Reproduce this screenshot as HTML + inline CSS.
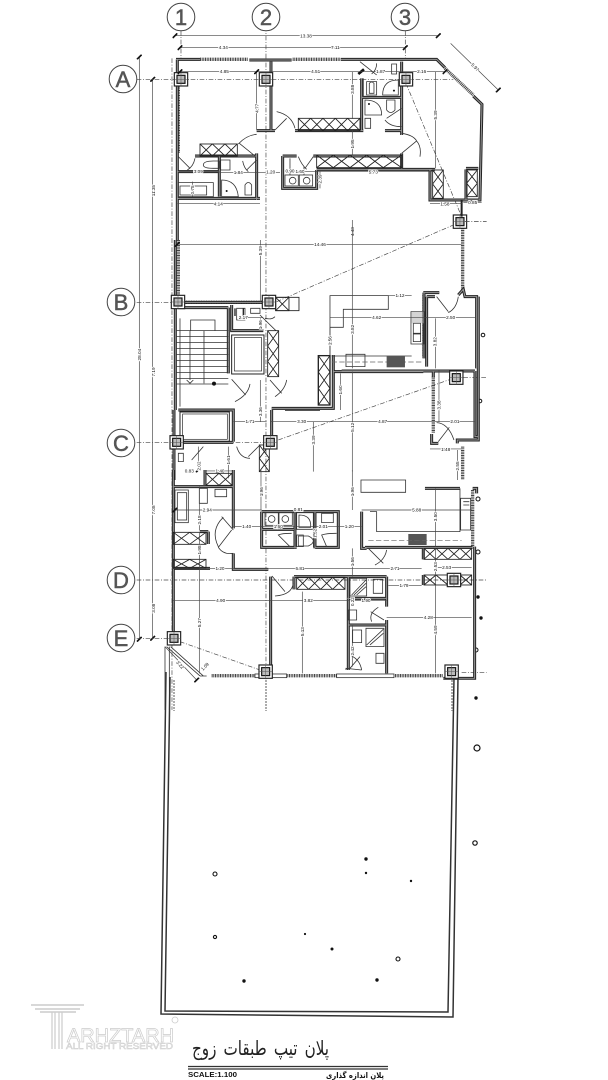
<!DOCTYPE html>
<html lang="en"><head><meta charset="utf-8"><title>Plan</title>
<style>
html,body{margin:0;padding:0;background:#fff;width:608px;height:1080px;overflow:hidden}
svg{display:block}
text{font-family:"Liberation Sans",sans-serif}
.t{stroke:#333;stroke-width:2.4;fill:none}
.th{stroke:#111;stroke-width:4;fill:none}
.wa{stroke:#222;stroke-width:9;fill:none}
.wb{stroke:#999;stroke-width:3;fill:none}
.h{stroke:#444;stroke-width:10;fill:none;stroke-dasharray:3 2}
.gd{stroke:#444;stroke-width:2;fill:none;stroke-dasharray:14 5 3 5}
.x{stroke:#222;stroke-width:2.6;fill:none}
.d{stroke:#444;stroke-width:2;fill:none;marker-start:url(#m);marker-end:url(#m)}
.l{font-size:14px;fill:#111;text-anchor:middle;dominant-baseline:central;paint-order:stroke;stroke:#fff;stroke-width:5px}
.dk{fill:#333}
</style></head><body>
<svg xmlns="http://www.w3.org/2000/svg" width="608" height="1080" viewBox="0 0 608 1080">
<defs>
<marker id="m" markerUnits="userSpaceOnUse" viewBox="-8 -8 16 16" markerWidth="16" markerHeight="16" orient="0"><path d="M-7 7L7-7" stroke="#111" stroke-width="5"/></marker>
<g id="c"><rect x="-20" y="-20" width="40" height="40" fill="#fff" stroke="#222" stroke-width="3.500"/><rect x="-12" y="-12" width="24" height="24" fill="#bbb" stroke="#111" stroke-width="3.500"/><path d="M-20 0H20M0-20V20" stroke="#555" stroke-width="1.500"/></g>

<path id="w1" d="M228 178H300M448 180H575M722 178H1010L1035 203M1120 288L1146 313L1140 600H990V508M1098 600V508M232 178V720M513 185V392H470M470 392H525M585 392H790M785 235V392M785 292H905M905 185V385M855 392H905M905 385V405M285 468H470M470 460V600M358 468V590M233 515H355M233 595H480M548 468H590V468M548 468V565H650V510M640 468H905V505M905 460V505M650 508H1005M1098 505H1135"/>
<path id="w2" d="M226 0V510M222 510V720M235 187H490M385 203V400M235 203H385M235 510H400V605M248 607H400M395 195V272H490M515 510V620M515 505H700V395H970M725 393H1125M700 395V345M972 158V355M970 158H1018M980 170H1005M980 170V380M1075 165L1090 148L1095 170H1130V385M1125 393V590H1135M1135 170V600H1072V610M995 582V610H1015M1000 395V412"/>
<path id="w3" d="M220 0V505M218 50H400M400 0V175M400 250V298H505M512 320V600M218 295H330M325 185V222M300 185H325M315 0V45M485 125V232H590M485 125H715V232H645M485 178H582M585 125V235M645 125V235M785 125V235H800M795 232H1118M975 55H1080M1118 55H1130V70M1124 230V625H1030M582 320H860M745 320V600M860 320V410M860 450V610M745 465H860M742 385H860M582 320V358M970 235V268M970 315V345"/>
</defs>
<rect width="608" height="1080" fill="#fff"/>

<!-- garden outline -->
<path d="M166 672L161 1014L453 1017L458 677" fill="none" stroke="#333" stroke-width="1.5"/>
<path d="M170 677L165 1011L448 1012L454 678" fill="none" stroke="#333" stroke-width="1.5"/>
<path d="M174 680V711M266 680V711M452 680V711" stroke="#888" stroke-width="1.4" stroke-dasharray="2 1" fill="none"/>

<!-- dots and rings -->
<g fill="#111">
<circle cx="476" cy="698" r="1.7"/><circle cx="366" cy="859" r="1.7"/><circle cx="366" cy="873" r="1.2"/><circle cx="411" cy="881" r="1.2"/><circle cx="305" cy="934" r="1.1"/><circle cx="332" cy="949" r="1.5"/><circle cx="244" cy="981" r="1.7"/><circle cx="377" cy="980" r="1.7"/><circle cx="478" cy="597" r="1.7"/><circle cx="481" cy="618" r="1.7"/>
</g>
<g fill="#fff" stroke="#111">
<circle cx="477" cy="748" r="3" stroke-width="1.2"/><circle cx="475" cy="843" r="2.2" stroke-width="1.2"/><circle cx="215" cy="874" r="2" stroke-width="1.1"/><circle cx="215" cy="937" r="1.6" stroke-width="1.1"/><circle cx="398" cy="959" r="2" stroke-width="1.1"/><circle cx="483" cy="335" r="1.8" stroke-width="1"/><circle cx="480" cy="401" r="1.8" stroke-width="1"/><circle cx="478" cy="499" r="2" stroke-width="1"/><circle cx="478" cy="552" r="2" stroke-width="1"/><circle cx="476" cy="650" r="2" stroke-width="1"/>
</g>

<!-- long left dimension lines and grid verticals -->
<g transform="scale(.3333)">
<path class="d" d="M418 171V1918"/>
<path class="d" d="M458 238V1485M458 1485V1915"/>
<path class="gd" d="M516 175V2130"/>
<path class="gd" d="M798 80V2040"/>
<text class="l" transform="translate(418 1064) rotate(-90)">28.04</text>
<text class="l" transform="translate(460 572) rotate(-90)">11.35</text>
<text class="l" transform="translate(460 1116) rotate(-90)">7.19</text>
<text class="l" transform="translate(460 1530) rotate(-90)">7.08</text>
<text class="l" transform="translate(460 1825) rotate(-90)">3.08</text>
</g>

<!-- SECTION 1 -->
<g transform="translate(100 0) scale(.3333)">
<path class="gd" d="M243 92V175M916 92V175M110 238H1060M918 250L1085 650"/>
<path class="h" d="M300 178H445M578 178H720M1035 205L1120 285M235 260V460M1088 675V720"/>
<use href="#w1" class="wa"/><use href="#w1" class="wb"/>
<g class="x">
<rect x="300" y="432" width="112" height="36"/><path d="M300 432L337 468M337 432L300 468M337 432L375 468M375 432L337 468M375 432L412 468M412 432L375 468"/>
<rect x="595" y="355" width="185" height="37"/><path d="M595 355L632 392M632 355L595 392M632 355L669 392M669 355L632 392M669 355L706 392M706 355L669 392M706 355L743 392M743 355L706 392M743 355L780 392M780 355L743 392"/>
<rect x="650" y="465" width="255" height="38"/><path d="M650 465L700 503M700 465L650 503M700 465L750 503M750 465L700 503M750 465L800 503M800 465L750 503M800 465L850 503M850 465L800 503M850 465L905 503M905 465L850 503"/>
<rect x="998" y="510" width="32" height="85"/><path d="M998 510L1030 552M1030 510L998 552M998 552L1030 595M1030 552L998 595"/>
<rect x="1100" y="510" width="32" height="80"/><path d="M1100 510L1132 550M1132 510L1100 550M1100 550L1132 590M1132 550L1100 590"/>
</g>
<g class="t">
<rect x="555" y="525" width="40" height="33"/><rect x="598" y="525" width="40" height="33"/><circle cx="578" cy="542" r="10"/><circle cx="620" cy="542" r="10"/>
<path d="M570 475V525M612 500V525"/>
<path d="M525 390L560 355M530 335Q575 345 585 385M418 430L465 468M415 432Q440 405 470 403M440 510L470 480M428 483Q432 505 445 515M235 470L270 505M285 475Q280 500 262 510M615 505L640 470M595 470Q605 495 620 508M905 460L950 423M905 400Q940 405 950 423Q965 440 960 470M860 355L905 325M855 360Q870 380 905 380M780 185L830 225M830 190Q830 210 815 222M790 235V290"/>
<path d="M800 245H830V285H800ZM808 250Q815 242 822 250V280H808ZM848 285Q848 240 895 240V285ZM795 300Q845 300 845 345H795ZM860 300H885V330Q872 345 860 330ZM795 355H812V385H795ZM310 495Q310 483 340 483H358V505H340Q310 505 310 495ZM362 480H390V510H362ZM365 590V540Q410 540 415 590ZM435 585V555Q445 540 455 555V585ZM235 548H340V590H235ZM875 192H890V222H875ZM240 558H320V585H240Z"/>
</g>
<circle cx="807" cy="312" r="3" fill="#111"/><circle cx="882" cy="272" r="3" fill="#111"/><circle cx="380" cy="573" r="3" fill="#111"/><circle cx="277" cy="570" r="3" fill="#111"/>
<path d="M775 222L792 208" stroke="#111" stroke-width="8"/>
<use href="#c" x="243" y="238"/><use href="#c" x="498" y="238"/><use href="#c" x="918" y="238"/><use href="#c" x="1080" y="665"/>
<path d="M1085 600V650" stroke="#222" stroke-width="6"/>
<path class="d" d="M225 107H1015"/>
<path class="d" d="M240 143H498M498 143H916"/>
<path class="d" d="M240 215H510M510 215H790M790 215H900M900 215H1035"/>
<path class="d" d="M470 215V390M757 215V357M757 392V467M1007 215V505M232 610H480M235 515H358M358 517H470M470 517H540M555 515H650M650 515H1005M990 610H1085M1090 608H1145M660 510V565M278 545V590M1052 130L1195 270"/>
<path d="M1095 665H1160" class="gd"/>
<text class="l" x="618" y="108">13.38</text><text class="l" x="370" y="143">4.34</text><text class="l" x="706" y="143">7.11</text>
<text class="l" x="373" y="215">4.85</text><text class="l" x="647" y="215">4.51</text><text class="l" x="842" y="215">1.87</text><text class="l" x="965" y="215">2.16</text>
<text class="l" transform="translate(471 325) rotate(-90)">4.77</text><text class="l" transform="translate(757 268) rotate(-90)">3.88</text><text class="l" transform="translate(757 432) rotate(-90)">1.95</text><text class="l" transform="translate(1007 345) rotate(-90)">5.39</text><text class="l" transform="translate(757 695) rotate(-90)">4.43</text><text class="l" transform="translate(660 537) rotate(-90)">2.39</text><text class="l" transform="translate(278 570) rotate(-90)">0.75</text>
<text class="l" x="355" y="612">4.14</text><text class="l" x="295" y="515">3.09</text><text class="l" x="415" y="517">1.84</text><text class="l" x="512" y="516">1.20</text><text class="l" x="570" y="513">0.90</text><text class="l" x="600" y="515">1.60</text><text class="l" x="820" y="516">5.73</text><text class="l" x="1035" y="612">1.58</text><text class="l" x="1118" y="608">0.85</text>
<text class="l" transform="translate(1125 202) rotate(45)">5.97</text>
</g>

<!-- SECTION 2 -->
<g transform="translate(100 240) scale(.3333)">
<path class="gd" d="M110 187H500M110 608H520M1090 413H1160M530 185L1060 -45M535 600L1060 415"/>
<path class="h" d="M1088 0V150M235 0V170M238 187H490M1088 620V720M1000 410V580M972 165V350"/>
<use href="#w2" class="wa"/><use href="#w2" class="wb"/>
<g class="t">
<path d="M228 272H385M228 290H385M228 308H385M228 326H385M228 344H385M228 362H385M228 380H385M228 398H385M228 416H385M312 272V430M272 272V240H345V272M228 432H385M270 272V420M260 420L270 430L280 420M240 235V500"/>
<path d="M395 418L437 465M450 432Q445 465 405 485M510 420L545 460M560 420Q555 450 525 470M480 225L528 272M525 230Q515 240 495 235"/>
<path d="M690 350V167H865V208H730V262H690M695 348H935M933 215H972V312H933ZM940 250H962V280H940ZM940 282H962V305H940ZM738 343H795V380H738Z"/>
<path d="M1010 170L1045 215M1075 170Q1070 205 1045 218M1015 605L1048 562M1010 548Q1045 550 1062 600M410 205H435V240H410ZM452 205H480V220H452Z"/>
</g>
<path d="M695 366H970" stroke="#666" stroke-width="2" stroke-dasharray="16 7" fill="none"/>
<rect x="860" y="348" width="55" height="34" fill="#555"/>
<g stroke="#222" fill="none" stroke-width="3"><rect x="395" y="285" width="97" height="117"/><rect x="403" y="293" width="82" height="100" stroke-width="2"/><rect x="240" y="516" width="148" height="88"/><rect x="248" y="522" width="134" height="76" stroke-width="2"/></g>
<path d="M935 215H972V250H935Z" fill="#aaa" opacity=".5"/>
<circle cx="342" cy="431" r="6" fill="#111"/>
<g class="x">
<rect x="503" y="272" width="33" height="138"/><path d="M503 272L536 318M536 272L503 318M503 318L536 364M536 318L503 364M503 364L536 410M536 364L503 410"/>
<rect x="527" y="172" width="70" height="40"/><rect x="527" y="172" width="40" height="40"/><path d="M527 172L567 212M567 172L527 212"/>
<rect x="655" y="347" width="35" height="148" stroke-width="4"/><path d="M655 347L690 396M690 347L655 396M655 396L690 445M690 396L655 445M655 445L690 495M690 445L655 495"/>
<rect x="478" y="615" width="30" height="80"/><path d="M478 615L508 655M508 615L478 655M478 655L508 695M508 655L478 695"/>
</g>
<path d="M555 511H660" stroke="#555" stroke-width="4"/>
<path d="M405 228V205M430 228V205" stroke="#222" stroke-width="4" fill="none"/>
<use href="#c" x="234" y="186"/><use href="#c" x="507" y="186"/><use href="#c" x="230" y="607"/><use href="#c" x="511" y="607"/><use href="#c" x="1069" y="413"/>
<path class="d" d="M232 13H1085M481 0V185M481 235V270M757 -60V165M865 167H935M690 233H975M975 233H1125M757 165V385M1007 235V385M690 262V345M722 400V510M1017 390V545M757 395V695M640 545V695M510 545H700M700 545H1000M1000 545H1125M400 545H500M990 627H1085M1073 630V720M481 420V545M385 620V715M420 233H490M315 693H400M295 620V690"/>
<text class="l" x="660" y="13">14.46</text><text class="l" x="900" y="167">1.12</text><text class="l" x="830" y="233">4.62</text><text class="l" x="1052" y="233">2.50</text><text class="l" x="430" y="233">2.17</text><text class="l" x="605" y="545">3.30</text><text class="l" x="848" y="545">4.87</text><text class="l" x="1065" y="545">2.01</text><text class="l" x="450" y="545">1.71</text><text class="l" x="1037" y="628">1.48</text><text class="l" x="360" y="693">1.40</text><text class="l" x="268" y="693">0.83</text>
<text class="l" transform="translate(481 32) rotate(-90)">5.39</text><text class="l" transform="translate(481 254) rotate(-90)">1.96</text><text class="l" transform="translate(757 268) rotate(-90)">3.82</text><text class="l" transform="translate(1005 305) rotate(-90)">3.82</text><text class="l" transform="translate(690 302) rotate(-90)">1.56</text><text class="l" transform="translate(722 450) rotate(-90)">1.60</text><text class="l" transform="translate(1017 495) rotate(-90)">3.38</text><text class="l" transform="translate(757 562) rotate(-90)">5.12</text><text class="l" transform="translate(640 600) rotate(-90)">3.39</text><text class="l" transform="translate(481 515) rotate(-90)">3.36</text><text class="l" transform="translate(385 660) rotate(-90)">1.61</text><text class="l" transform="translate(1073 678) rotate(-90)">2.55</text><text class="l" transform="translate(297 678) rotate(-90)">2.02</text>
<g class="t"><path d="M275 660L310 620M235 640H250V665H235ZM410 620Q420 655 450 655M445 650L480 615"/></g>
</g>

<!-- SECTION 3 -->
<g transform="translate(100 470) scale(.3333)">
<path class="gd" d="M110 330H1160M110 505H205M240 515L480 600M1085 608H1160"/>
<path class="h" d="M1118 60V230M335 617H465M562 617H710M885 617H1030"/>
<use href="#w3" class="wa"/><use href="#w3" class="wb"/>
<g class="t">
<rect x="465" y="612" width="95" height="11" fill="#fff"/><rect x="710" y="612" width="172" height="11" fill="#fff"/>
<rect x="225" y="60" width="40" height="98"/><rect x="232" y="68" width="28" height="82"/>
<path d="M395 180L355 232M370 142Q330 180 355 230M355 232Q370 255 400 250M400 180L365 140"/>
<path d="M590 195H610V230H590Z"/>
<rect x="495" y="128" width="40" height="38"/><rect x="537" y="128" width="40" height="38"/><circle cx="515" cy="147" r="10"/><circle cx="556" cy="147" r="10"/>
<path d="M590 128H640V178H590ZM597 135Q635 135 632 172H597ZM665 130H700V158H665ZM595 198H625Q640 205 640 213T625 228H595ZM570 230L535 195Q545 190 575 190M680 230L665 195Q680 190 710 190"/>
<path d="M805 235L850 280M860 240Q855 270 825 285M810 125H830V185H1080V55M783 30H917V67H783ZM1082 85H1112V180H1082ZM1090 95H1108M1090 105H1108"/>
<path d="M516 318L555 365M580 340Q575 375 525 378M812 425L852 450M835 412Q805 430 815 455M738 600V595L785 600M750 595L780 560M785 600Q780 570 755 558"/>
<path d="M298 55H322V100H298ZM345 58H380V80H345ZM820 328H848V370H820ZM758 480H785V518H758ZM828 550H852V580H828ZM745 420H770V450H745Z"/>
<path d="M750 325H800V378H750ZM798 475H852V530H798ZM755 375L798 330M762 375L798 340M770 375L798 350M800 525L850 478M810 525L850 490"/>
<path d="M195 530V720M208 530V720M200 530L300 618M212 530L310 618M300 618H320"/>
</g>
<rect x="925" y="192" width="55" height="33" fill="#555"/>
<path d="M805 212H1085" stroke="#666" stroke-width="2" stroke-dasharray="16 7" fill="none"/>
<g class="x">
<rect x="220" y="187" width="98" height="36"/><path d="M220 187L269 223M269 187L220 223M269 187L318 223M318 187L269 223"/>
<rect x="220" y="268" width="98" height="27"/><path d="M220 268L269 295M269 268L220 295M269 268L318 295M318 268L269 295"/>
<rect x="318" y="10" width="78" height="36"/><path d="M318 10L357 46M357 10L318 46M357 10L396 46M396 10L357 46"/>
<rect x="590" y="322" width="145" height="36"/><path d="M590 322L626 358M626 322L590 358M626 322L662 358M662 322L626 358M662 322L698 358M698 322L662 358M698 322L735 358M735 322L698 358"/>
<rect x="972" y="235" width="143" height="33"/><path d="M972 235L1008 268M1008 235L972 268M1008 235L1044 268M1044 235L1008 268M1044 235L1080 268M1080 235L1044 268M1080 235L1115 268M1115 235L1080 268"/>
<rect x="972" y="315" width="143" height="30"/><path d="M972 315L1008 345M1008 315L972 345M1008 315L1044 345M1080 315L1115 345M1115 315L1080 345"/>
</g>
<use href="#c" x="222" y="505"/><use href="#c" x="497" y="605"/><use href="#c" x="1055" y="605"/><use href="#c" x="1062" y="330"/>
<path class="d" d="M225 120H400M400 120H485M785 120H1115M400 170H485M485 170H585M590 170H715M715 170H785M300 295H400M400 295H805M805 295H965M1005 293H1115M865 347H965M218 392H510M510 392H745M745 392H860M860 443H1115M298 50V182M298 185V298M298 298V610M607 365V610M757 0V120M757 235V320M483 0V120M1007 55V230M1007 235V345M1007 345V610M757 465V590M640 180V232M195 530L290 630"/>
<text class="l" x="322" y="120">2.94</text><text class="l" x="440" y="170">1.40</text><text class="l" x="535" y="170">1.60</text><text class="l" x="670" y="170">2.01</text><text class="l" x="748" y="170">1.20</text><text class="l" x="950" y="120">5.88</text><text class="l" x="360" y="295">1.20</text><text class="l" x="600" y="295">6.81</text><text class="l" x="885" y="295">2.71</text><text class="l" x="1040" y="293">2.53</text><text class="l" x="912" y="347">1.79</text><text class="l" x="362" y="392">4.90</text><text class="l" x="625" y="392">3.82</text><text class="l" x="798" y="392">1.90</text><text class="l" x="985" y="443">4.28</text><text class="l" x="595" y="118">0.81</text>
<text class="l" transform="translate(298 150) rotate(-90)">2.18</text><text class="l" transform="translate(298 240) rotate(-90)">1.98</text><text class="l" transform="translate(298 458) rotate(-90)">5.27</text><text class="l" transform="translate(607 485) rotate(-90)">5.13</text><text class="l" transform="translate(757 65) rotate(-90)">1.96</text><text class="l" transform="translate(757 275) rotate(-90)">1.56</text><text class="l" transform="translate(484 65) rotate(-90)">1.96</text><text class="l" transform="translate(1007 140) rotate(-90)">3.50</text><text class="l" transform="translate(1007 290) rotate(-90)">2.53</text><text class="l" transform="translate(1007 480) rotate(-90)">4.59</text><text class="l" transform="translate(757 543) rotate(-90)">2.42</text><text class="l" transform="translate(645 190) rotate(-90)">1.52</text><text class="l" transform="translate(757 395) rotate(-90)">0.22</text><text class="l" transform="translate(240 585) rotate(48)">3.22</text><text class="l" transform="translate(315 590) rotate(-45)">1.09</text>
</g>

<!-- grid bubbles -->
<g stroke="#444" stroke-width="1" fill="#fff">
<circle cx="181" cy="17" r="13.8"/><circle cx="266" cy="17" r="13.8"/><circle cx="405" cy="17" r="13.8"/>
<circle cx="123" cy="79" r="13.8"/><circle cx="121" cy="302" r="13.8"/><circle cx="121" cy="443" r="13.8"/><circle cx="121" cy="580" r="13.8"/><circle cx="121" cy="638" r="13.8"/>
</g>
<g font-size="22" fill="#555" text-anchor="middle" stroke="#555" stroke-width=".5">
<text x="181" y="25">1</text><text x="266" y="25">2</text><text x="405" y="25">3</text>
<text x="123" y="87">A</text><text x="121" y="310">B</text><text x="121" y="451">C</text><text x="121" y="588">D</text><text x="121" y="646">E</text>
</g>

<!-- watermark -->
<g fill="none" stroke="#ccc">
<path d="M31 1005H84M35 1009H80M40 1012H76" stroke-width="1.6"/>
<path d="M52 1012V1049M55 1012V1049M59 1012V1049M62 1012V1049" stroke-width="1.2"/>
<circle cx="175" cy="1020" r="3" stroke-width=".8"/>
</g>
<text x="67" y="1042" font-size="19.5" textLength="107" lengthAdjust="spacingAndGlyphs" fill="#fff" stroke="#ccc" stroke-width=".7">ARHZTARH</text>
<text x="66" y="1049" font-size="8.5" textLength="107" lengthAdjust="spacingAndGlyphs" fill="#fff" stroke="#ccc" stroke-width=".5">ALL RIGHT RESERVED</text>

<!-- title -->
<text x="329" y="1055" direction="rtl" style="font-family:'DejaVu Sans',sans-serif;font-size:20px;word-spacing:3px" textLength="137" lengthAdjust="spacingAndGlyphs" fill="#222">پلان تیپ طبقات زوج</text>
<path d="M188 1066.500H388M188 1069H388" stroke="#333" stroke-width="1.2"/>
<text x="188" y="1077" font-size="7.500" font-weight="bold" fill="#111" textLength="49" lengthAdjust="spacingAndGlyphs">SCALE:1.100</text>
<text x="384" y="1078" direction="rtl" style="font-family:'DejaVu Sans',sans-serif;font-size:8px;font-weight:bold" textLength="58" lengthAdjust="spacingAndGlyphs" fill="#111">پلان اندازه گذاری</text>
</svg>
</body></html>
